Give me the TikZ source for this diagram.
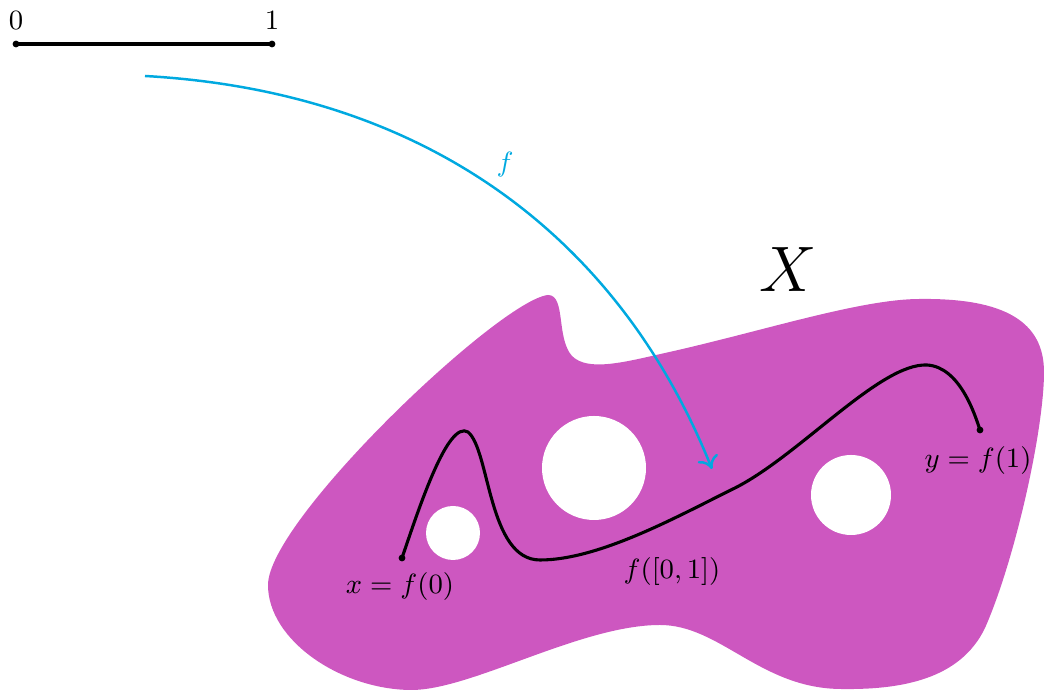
\documentclass[tikz,border=0pt]{standalone}
\usetikzlibrary{arrows.meta}
\definecolor{blob}{RGB}{205,87,192}
\definecolor{fcyan}{RGB}{0,169,224}
\tikzset{
  pathline/.style={line width=1pt, black},
  dotmark/.style={circle, fill=black, inner sep=0pt, minimum size=2.2pt},
  maparrow/.style={line width=0.8pt, fcyan, -{To[length=4pt,width=7pt]}},
  lbl/.style={inner sep=0pt, font=\fontsize{9.3}{11}\selectfont}
}
\begin{document}
\begin{tikzpicture}[x=0.3226pt, y=-0.3226pt]
\useasboundingbox (0,0) rectangle (1044,691);
% space X
\fill[blob] (548,295) .. controls (566,295) and (556,338) .. (572,356)
  .. controls (588,372) and (625,362) .. (665,353)
  .. controls (760,332) and (860,299) .. (920,299)
  .. controls (1005,298) and (1044,322) .. (1044,372)
  .. controls (1044,430) and (1015,560) .. (985,628)
  .. controls (960,680) and (900,690) .. (840,689)
  .. controls (760,688) and (720,625) .. (660,625)
  .. controls (580,625) and (470,691) .. (410,690)
  .. controls (340,689) and (268,640) .. (268,585)
  .. controls (268,520) and (500,300) .. (548,295) -- cycle;
\fill[white] (594,468) circle[radius=52];
\fill[white] (453,533) circle[radius=27];
\fill[white] (851,495) circle[radius=40];
% interval
\node[dotmark] (p0) at (16,44) {};
\node[dotmark] (p1) at (272,44) {};
\draw[pathline] (p0.center) -- (p1.center);
\node[lbl] (l0) at (16,21) {$0$};
\node[lbl] (l1) at (272,21) {$1$};
% path in X
\node[dotmark] (x0) at (402,558) {};
\node[dotmark] (y1) at (980,430) {};
\draw[pathline] (x0.center) .. controls (420,505) and (448,420) .. (468,432)
  .. controls (490,450) and (488,560) .. (540,560)
  .. controls (600,560) and (680,515) .. (735,488)
  .. controls (800,455) and (880,363) .. (927,365)
  .. controls (960,367) and (975,415) .. (y1.center);
\node[lbl] (lx) at (400,587) {$x=f(0)$};
\node[lbl] (lp) at (672,572) {$f([0,1])$};
\node[lbl] (ly) at (978,461) {$y=f(1)$};
\node[inner sep=0pt] (lX) at (788,270) {\fontsize{21}{25}\selectfont $X$};
% map f
\coordinate (fs) at (145,76);
\coordinate (fe) at (712,469);
\draw[maparrow] (fs) .. controls (430,92) and (620,240) .. (fe);
\node[lbl, text=fcyan] (lf) at (505,165) {$f$};
\end{tikzpicture}
\end{document}
